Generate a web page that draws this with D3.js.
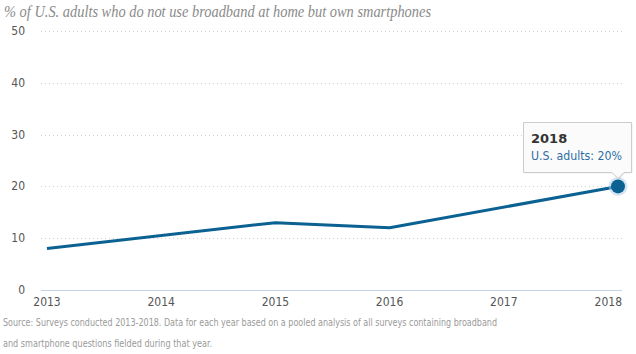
<!DOCTYPE html>
<html>
<head>
<meta charset="utf-8">
<script src="https://cdnjs.cloudflare.com/ajax/libs/d3/7.8.5/d3.min.js"></script>
<style>
  body { margin: 0; background: #fff; }
  svg { display: block; }
</style>
</head>
<body>
<div id="chart"></div>
<script>
// data
var years = [2013, 2015, 2016, 2018];
var values = [8, 13, 12, 20];
var yTicks = [0, 10, 20, 30, 40, 50];
var xTicks = [2013, 2014, 2015, 2016, 2017, 2018];
var title = "% of U.S. adults who do not use broadband at home but own smartphones";
var source = [
  "Source: Surveys conducted 2013-2018. Data for each year based on a pooled analysis of all surveys containing broadband",
  "and smartphone questions fielded during that year."
];
var sourceWidths = [494, 209];

var width = 636, height = 354;

var svg = d3.select("#chart")
  .append("svg")
  .attr("width", width)
  .attr("height", height);

var x = d3.scaleLinear().domain([2013, 2018]).range([47, 618]);
var y = d3.scaleLinear().domain([0, 50]).range([290, 31]);

// title
svg.append("text")
  .attr("x", 4)
  .attr("y", 17)
  .attr("font-family", "Liberation Serif, Georgia, serif")
  .attr("font-style", "italic")
  .attr("font-size", 16)
  .attr("fill", "#8a8a8a")
  .attr("textLength", 427)
  .attr("lengthAdjust", "spacingAndGlyphs")
  .text(title);

// grid lines
svg.append("g")
  .selectAll("line")
  .data(yTicks.filter(d => d > 0))
  .enter()
  .append("line")
  .attr("x1", 41)
  .attr("x2", 622)
  .attr("y1", d => Math.round(y(d)) + 0.5)
  .attr("y2", d => Math.round(y(d)) + 0.5)
  .attr("stroke", "#cfcfcf")
  .attr("stroke-width", 1)
  .attr("stroke-dasharray", "1,3");

// baseline
svg.append("line")
  .attr("x1", 41)
  .attr("x2", 622)
  .attr("y1", Math.round(y(0)) + 0.5)
  .attr("y2", Math.round(y(0)) + 0.5)
  .attr("stroke", "#c4d2ea")
  .attr("stroke-width", 1);

var tickFont = "Liberation Sans Narrow, DejaVu Sans Condensed, sans-serif";

// y labels
svg.append("g")
  .selectAll("text")
  .data(yTicks)
  .enter()
  .append("text")
  .attr("x", 25)
  .attr("y", d => y(d) + 4)
  .attr("text-anchor", "end")
  .attr("font-family", tickFont)
  .attr("font-size", 12)
  .attr("fill", "#555")
  .text(d => d);

// x labels
svg.append("g")
  .selectAll("text")
  .data(xTicks)
  .enter()
  .append("text")
  .attr("x", d => d === 2018 ? 622 : x(d))
  .attr("y", 306)
  .attr("text-anchor", d => d === 2018 ? "end" : "middle")
  .attr("font-family", tickFont)
  .attr("font-size", 12)
  .attr("fill", "#555")
  .text(d => d);

// line
var line = d3.line()
  .x((d, i) => x(years[i]))
  .y(d => y(d));

svg.append("path")
  .datum(values)
  .attr("d", line)
  .attr("fill", "none")
  .attr("stroke", "#0b6192")
  .attr("stroke-width", 3)
  .attr("stroke-linejoin", "round");

// highlighted point
var last = values.length - 1;
svg.append("circle")
  .attr("cx", x(years[last]))
  .attr("cy", y(values[last]))
  .attr("r", 9.5)
  .attr("fill", "#a9cbe3")
  .attr("opacity", 0.5);
svg.append("circle")
  .attr("cx", x(years[last]))
  .attr("cy", y(values[last]))
  .attr("r", 7)
  .attr("fill", "#0b6192");

// tooltip
var tip = svg.append("g");
var tx = 523.5, ty = 122.5, tw = 108, th = 50;
var px = x(years[last]);
var tipPath = "M" + tx + "," + ty + "h" + tw + "v" + th +
  "H" + (px + 6) + "l-6,6l-6,-6H" + tx + "Z";
tip.append("path")
  .attr("d", tipPath)
  .attr("transform", "translate(1,1)")
  .attr("fill", "rgba(0,0,0,0.08)");
tip.append("path")
  .attr("d", tipPath)
  .attr("fill", "#fbfbfb")
  .attr("stroke", "#cccccc")
  .attr("stroke-width", 1);
tip.append("text")
  .attr("x", 531)
  .attr("y", 143)
  .attr("font-family", "DejaVu Sans, Verdana, sans-serif")
  .attr("font-weight", "bold")
  .attr("font-size", 13)
  .attr("fill", "#333")
  .text(years[last]);
tip.append("text")
  .attr("x", 531)
  .attr("y", 160)
  .attr("font-family", "DejaVu Sans, Verdana, sans-serif")
  .attr("font-size", 11.5)
  .attr("fill", "#2f6ea5")
  .attr("textLength", 91)
  .attr("lengthAdjust", "spacingAndGlyphs")
  .text("U.S. adults: " + values[last] + "%");

// source
svg.append("g")
  .selectAll("text")
  .data(source)
  .enter()
  .append("text")
  .attr("x", 3)
  .attr("y", (d, i) => 326 + i * 21)
  .attr("font-family", tickFont)
  .attr("font-size", 11)
  .attr("fill", "#9a9a9a")
  .attr("textLength", (d, i) => sourceWidths[i])
  .attr("lengthAdjust", "spacingAndGlyphs")
  .text(d => d);
</script>
</body>
</html>
